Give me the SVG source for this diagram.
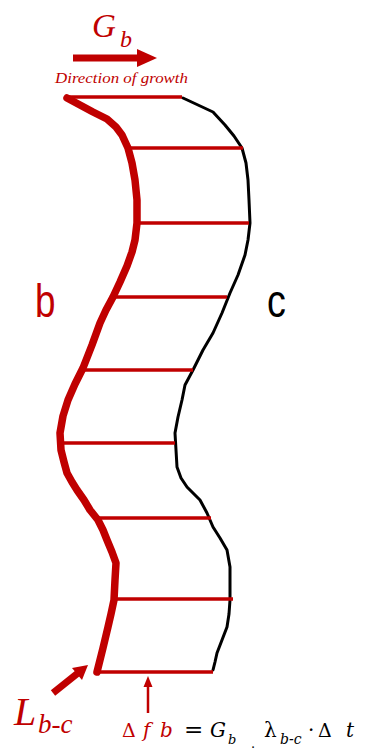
<svg xmlns="http://www.w3.org/2000/svg" width="366" height="755" viewBox="0 0 366 755">
<style>
.red{fill:#c00000}
.blk{fill:#000}
.serif{font-family:"Liberation Serif","Times New Roman",serif}
.math{font-family:"DejaVu Serif","Liberation Serif",serif}
.sans{font-family:"Liberation Sans",Arial,sans-serif}
.it{font-style:italic}
.rung{stroke:#c00000;stroke-width:3.5;fill:none;stroke-linecap:butt}
.wallb{stroke:#c00000;stroke-width:7.5;fill:none;stroke-linejoin:round;stroke-linecap:round}
.wallc{stroke:#000;stroke-width:3;fill:none;stroke-linejoin:round;stroke-linecap:round}
</style>
<rect width="366" height="755" fill="#fff"/>
<g id="growth-label">
  <text class="serif it red" x="92" y="37" font-size="33">G</text>
  <text class="serif it red" x="120" y="47" font-size="24">b</text>
  <line x1="73" y1="58" x2="139" y2="58" stroke="#c00000" stroke-width="7"/>
  <polygon class="red" points="137,49 157,58 137,67"/>
  <text class="serif it red" x="55" y="83" font-size="14" textLength="133" lengthAdjust="spacingAndGlyphs">Direction of growth</text>
</g>
<g id="wall-b">
  <polyline class="wallb" points="67,98 80,105 93,112 107,119 116,127 122,135 128,148 132,163 135,180 137,200 137,223 135,240 132,252 127,266 120,282 113,297 106,310 100,323 92,345 83,368 75,384 68,400 63,416 60,433 61,450 64,462 67,473 72,482 77,490 84,500 90,510 98,520 103,530 107,540 112,552 116,563 115,580 114,600 111,614 108,627 103,648 97,672"/>
  <text class="sans red" transform="translate(35,317) scale(0.8,1)" font-size="46">b</text>
</g>
<g id="wall-c">
  <polyline class="wallc" points="183,98 198,105 213,112 225,125 234,136 242,148 246,163 248,180 249,200 250,223 248,240 245,255 238,275 230,293 222,313 213,333 203,350 193,370 185,385 182,400 178,417 175,433 176,450 177,467 181,478 187,487 200,500 207,513 213,527 220,538 227,550 230,567 230,585 230,600 229,614 227,627 222,640 217,653 215,662 213,670"/>
  <text class="sans blk" transform="translate(267,317) scale(0.82,1)" font-size="46">c</text>
</g>
<g id="rungs">
  <line class="rung" x1="66" y1="97" x2="182" y2="97"/>
  <line class="rung" x1="128" y1="148" x2="243" y2="148"/>
  <line class="rung" x1="137" y1="223" x2="249" y2="223"/>
  <line class="rung" x1="113" y1="297" x2="227" y2="297"/>
  <line class="rung" x1="83" y1="370" x2="193" y2="370"/>
  <line class="rung" x1="60" y1="443" x2="175" y2="443"/>
  <line class="rung" x1="98" y1="518" x2="211" y2="518"/>
  <line class="rung" x1="115" y1="599" x2="233" y2="599"/>
  <line class="rung" x1="94" y1="672" x2="213" y2="672"/>
</g>
<g id="L-label">
  <line x1="53" y1="693" x2="78" y2="673" stroke="#c00000" stroke-width="7"/>
  <polygon class="red" points="88,665 82,680 72,668"/>
  <text class="serif it red" x="14" y="725" font-size="40">L</text>
  <text class="serif it red" x="38" y="733" font-size="27">b-c</text>
</g>
<g id="equation">
  <line x1="148" y1="713" x2="148" y2="684" stroke="#c00000" stroke-width="2.5"/>
  <polygon class="red" points="148,676 143.5,687 152.5,687"/>
  <text class="math red" x="122" y="737" font-size="19">Δ</text>
  <text class="math it red" x="143" y="737" font-size="20">f</text>
  <text class="math it red" x="160" y="737" font-size="20">b</text>
  <text class="math blk" x="184" y="737" font-size="23">=</text>
  <text class="math it blk" x="210" y="737" font-size="20">G</text>
  <text class="math it blk" x="228" y="744" font-size="13">b</text>
  <text class="math blk" x="251" y="748" font-size="13">.</text>
  <text class="math blk" x="264" y="737" font-size="20">λ</text>
  <text class="math it blk" x="280" y="744" font-size="14">b-c</text>
  <text class="math blk" x="308" y="737" font-size="20">·</text>
  <text class="math blk" x="318" y="737" font-size="19">Δ</text>
  <text class="math it blk" x="346" y="737" font-size="20">t</text>
</g>
</svg>
